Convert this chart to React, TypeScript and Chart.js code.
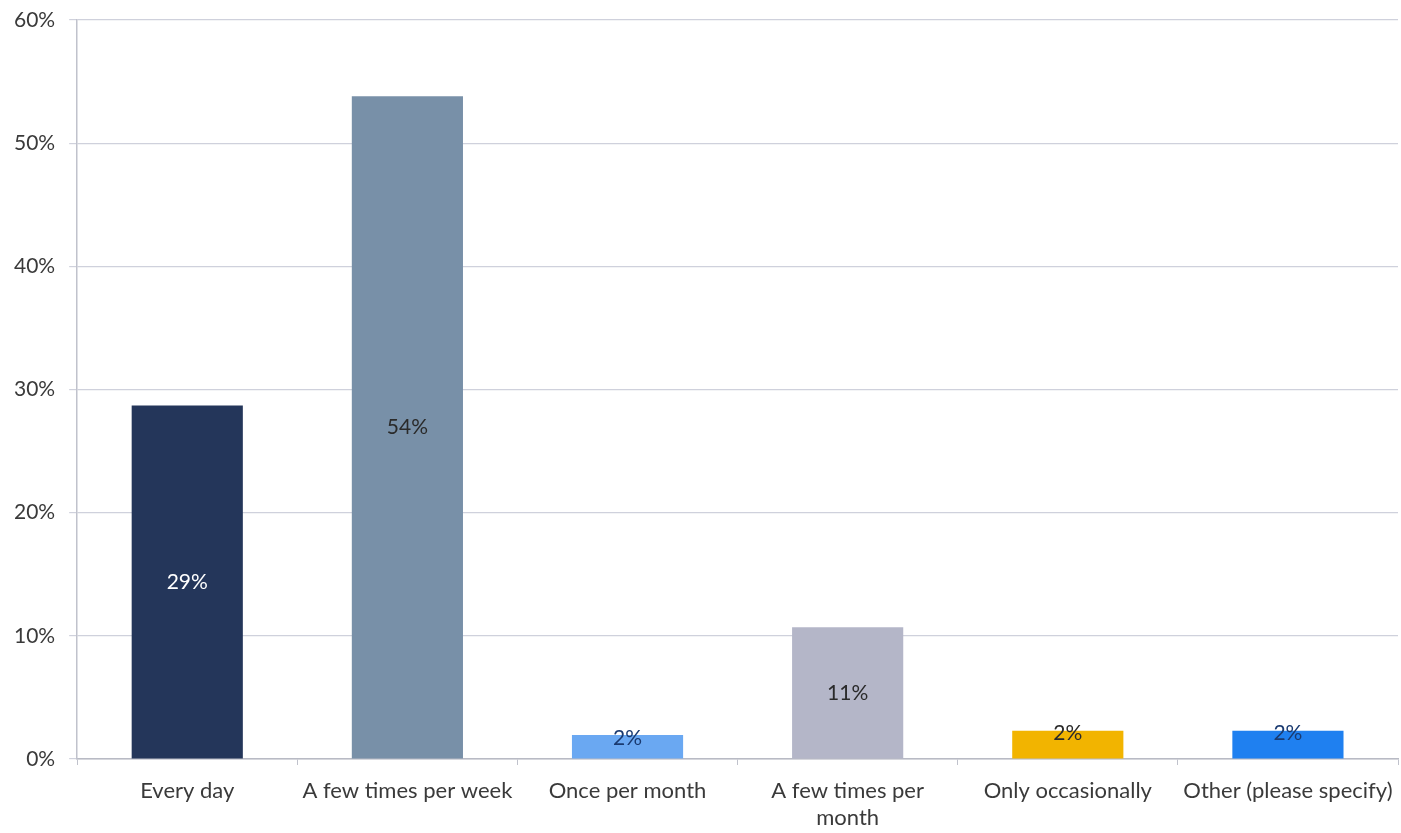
import React, { useEffect, useRef } from "react";
import { Chart, registerables } from "chart.js";

Chart.register(...registerables);

const categories: (string | string[])[] = [
  "Every day",
  "A few times per week",
  "Once per month",
  ["A few times per", "month"],
  "Only occasionally",
  "Other (please specify)",
];
const values = [28.7, 53.8, 1.95, 10.7, 2.3, 2.3];
const valueLabels = ["29%", "54%", "2%", "11%", "2%", "2%"];
const barColors = ["#24365a", "#7890a8", "#6aa8f2", "#b4b6c8", "#f2b400", "#1f80f0"];
const labelColors = ["#ffffff", "#2a2a2a", "#1a3a70", "#2a2a2a", "#2a2a2a", "#1a3a70"];
const yTicks = [0, 10, 20, 30, 40, 50, 60];

const FONT = "Lato, 'Open Sans', sans-serif";

const valueLabelPlugin = {
  id: "valueLabels",
  afterDatasetsDraw(chart: any) {
    const ctx = chart.ctx;
    const meta = chart.getDatasetMeta(0);
    ctx.save();
    ctx.font = `21px ${FONT}`;
    ctx.textAlign = "center";
    ctx.textBaseline = "middle";
    meta.data.forEach((bar: any, i: number) => {
      const y = values[i] < 5 ? bar.y + 3 : (bar.y + bar.base) / 2;
      ctx.fillStyle = labelColors[i];
      ctx.fillText(valueLabels[i], bar.x, y);
    });
    ctx.restore();
  },
};

export default function App() {
  const ref = useRef<HTMLCanvasElement>(null);
  useEffect(() => {
    document.body.style.margin = "0";
    document.body.style.background = "#ffffff";
    const chart = new Chart(ref.current!, {
      type: "bar",
      data: {
        labels: categories,
        datasets: [
          {
            data: values,
            backgroundColor: barColors,
            barPercentage: 0.505,
            categoryPercentage: 1,
          },
        ],
      },
      options: {
        animation: false,
        responsive: true,
        maintainAspectRatio: false,
        layout: { padding: { top: 20, right: 3, left: 0, bottom: -11 } },
        plugins: { legend: { display: false }, tooltip: { enabled: false } },
        scales: {
          x: {
            offset: true,
            afterFit: (axis: any) => {
              axis.paddingRight = 0;
              axis.paddingLeft = 0;
            },
            grid: {
              offset: true,
              drawOnChartArea: false,
              drawTicks: true,
              tickLength: 6,
              color: "#c0c2cc",
            },
            border: { color: "#b8bac4", width: 1.5 },
            ticks: {
              color: "#3a3a3a",
              font: { family: FONT, size: 22, lineHeight: 1.25 },
              maxRotation: 0,
              autoSkip: false,
              padding: 12,
            },
          },
          y: {
            min: 0,
            max: 60,
            afterFit: (axis: any) => {
              axis.paddingTop = 0;
              axis.paddingBottom = 0;
            },
            afterBuildTicks: (axis: any) => {
              axis.ticks = yTicks.map((v) => ({ value: v }));
            },
            grid: { color: "#cfd1dc", tickLength: 8, lineWidth: 1.2 },
            border: { color: "#c0c2cc", width: 1.5 },
            ticks: {
              color: "#3a3a3a",
              font: { family: FONT, size: 21 },
              padding: 14,
              callback: (v: any) => `${v}%`,
            },
          },
        },
      },
      plugins: [valueLabelPlugin],
    });
    return () => chart.destroy();
  }, []);
  return (
    <div style={{ position: "fixed", left: 0, top: 0, width: 1401, height: 833 }}>
      <canvas ref={ref} />
    </div>
  );
}
